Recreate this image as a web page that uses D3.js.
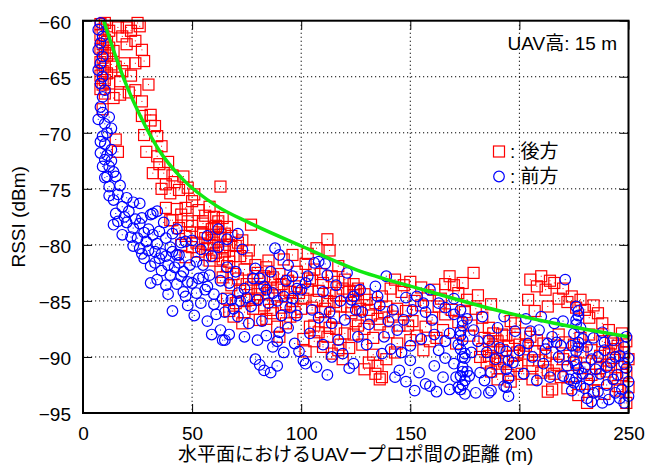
<!DOCTYPE html>
<html lang="ja">
<head>
<meta charset="UTF-8">
<title>RSSI</title>
<style>
  body { margin: 0; background: #fff; }
  svg text { font-family: "Liberation Sans", Arial, "Noto Sans CJK JP", sans-serif; }
</style>
</head>
<body>
<svg width="646" height="468"></svg>
<script src="https://d3js.org/d3.v7.min.js"></script>
<script>
// axis ticks
var xTicks = [0, 50, 100, 150, 200, 250];
var yTicks = [-60, -65, -70, -75, -80, -85, -90, -95];

// 後方 (red squares): [distance m, RSSI dBm]
var rear = [
  [8,-60.3],[9,-60.8],[8,-61.3],[10,-61.7],[9,-62.1],[8,-62.5],[10,-62.9],[9,-63.3],[8,-63.7],[10,-64.1],[9,-64.5],[8,-64.9],[10,-65.3],[9,-65.7],[8,-66.1],[10,-66.5],[9,-67.9],[11,-60.5],[11,-61.9],[11,-63.1],[11,-64.7],[12,-62.4],[12,-65.6],[13,-63.9],[10,-60.2],[12,-60.9],
  [16,-60.6],[20,-60.6],[25,-60.2],[26,-60.5],[22,-60.9],[18,-61.4],[24,-61.8],[20,-62.1],[27,-62.6],[14,-62.7],[19,-63.8],[24,-63.8],[28,-63.6],[15,-64.1],[18,-64.5],[22,-64.9],[17,-65.4],[30,-65.7],[24,-66.2],[17,-66.6],[27,-67.2],[21,-66.4],[14,-66.9],
  [31,-68.4],[27,-68.5],[31,-68.9],[33,-69.4],[28,-70.2],[34,-70.3],[15,-70.6],[16,-71.7],[29,-71.7],[34,-72.1],[36,-71.2],[32,-73.6],[37,-73.6],[41,-73.8],[46,-73.9],[38,-74.6],[40,-75.4],[44,-75.1],[35,-72.8],[39,-72.6],[42,-74.4],[36,-75.0],[48,-74.9],
  [51,-75.5],[47,-76.7],[43,-76.8],[38,-76.7],[45,-77.3],[50,-76.1],[53,-76.9],[56,-77.4],[60,-77.5],[63,-74.8],[41,-77.8],[48,-77.9],[55,-78.1],[58,-76.6],[62,-77.9],
  [40,-77.8],[44,-78.5],[47,-79.2],[50,-78.3],[52,-79.8],[54,-78.9],[56,-79.4],[57,-80.3],[59,-78.6],[60,-79.8],[61,-80.7],[63,-79.1],[64,-80.2],[47,-81.1],[53,-80.6],[58,-81.4],[50,-80.2],[55,-77.9],[62,-78.4],[63,-82.4],[49,-78.9],[45,-80],
  [55,-79.0],[58,-80.0],[60,-81.0],[62,-79.5],[65,-79.0],[67,-80.0],[69,-81.0],[71,-79.8],[59,-79.1],[61,-78.3],[56,-80.9],[64,-81.3],
  [64,-77.6],[66,-78.4],[68,-79.2],[77,-78.2],[65,-80.6],[67,-81.5],[70,-80.1],[72,-81.0],[74,-82.2],[76,-80.5],[79,-81.8],[69,-82.6],[71,-83.0],[64,-82.9],[73,-79.6],[78,-83.1],[66,-81.9],[75,-81.2],
  [66,-84.8],[68,-83.6],[70,-85.2],[72,-84.1],[74,-86.0],[76,-84.9],[78,-85.7],[69,-86.4],[73,-87.0],[67,-85.9],[80,-84.4],[75,-83.5],
  [96,-80.9],[92,-81.3],[80,-82.5],[82,-83.8],[84,-82.0],[86,-83.1],[88,-84.5],[90,-82.6],[92,-84.0],[94,-83.2],[96,-85.0],[98,-82.4],[83,-85.4],[87,-86.1],[91,-85.6],[95,-86.4],[99,-84.3],[85,-81.4],[89,-87.3],[93,-87.0],[97,-83.7],[81,-86.7],[100,-85.7],[90,-88.2],
  [77,-83.8],[79,-84.9],[81,-84.0],[83,-82.8],[85,-84.3],[87,-82.9],[89,-83.8],[91,-83.5],[93,-85.3],[95,-84.2],[97,-86.0],[86,-85.8],[84,-86.6],
  [112,-79.5],[113,-80.5],[117,-81.9],[120,-83.1],[102,-81.7],[104,-83.0],[106,-82.2],[108,-84.1],[110,-83.4],[112,-85.0],[114,-82.8],[116,-84.5],[118,-85.5],[122,-84.2],[124,-83.5],[126,-85.0],[101,-84.8],[105,-85.6],[109,-86.0],[115,-86.4],[119,-83.9],[123,-86.1],[103,-80.8],[107,-80.3],
  [103,-84.0],[105,-83.2],[107,-84.9],[109,-82.6],[111,-85.7],[113,-84.3],[115,-85.1],[117,-83.3],[121,-85.5],[125,-84.1],[106,-87.2],[113,-87.4],[117,-89.4],
  [102,-89.5],[104,-87.3],[106,-88.6],[108,-87.8],[110,-89.1],[112,-88.2],[114,-89.7],[116,-87.5],[118,-88.9],[120,-87.9],[122,-89.2],[124,-88.0],[126,-87.2],[101,-88.4],[111,-86.9],[119,-90.2],
  [124,-84.5],[127,-85.7],[130,-84.9],[132,-86.3],[134,-85.2],[136,-87.1],[138,-86.0],[140,-87.8],[129,-87.5],[125,-86.8],[133,-88.3],[143,-83.1],[150,-83.3],[141,-83.9],[146,-84.2],[147,-83.6],[139,-85.5],[142,-86.4],[145,-87.2],[148,-85.9],[151,-86.8],[153,-88.1],[155,-85.4],[157,-87.3],[159,-88.6],[144,-88.8],[150,-88.5],[156,-89.4],[128,-88.9],
  [126,-83.9],[129,-84.4],[131,-85.8],[135,-86.6],[137,-84.6],[144,-85.7],[149,-87.2],[152,-85.0],
  [133,-89.8],[136,-92.0],[131,-90.5],[137,-91.8],[143,-89.6],[129,-91.1],[135,-90.8],[139,-90.2],[134,-91.5],
  [155,-83.8],[158,-84.5],[161,-84.0],[164,-84.8],[168,-82.8],[166,-83.5],[170,-83.6],[174,-83.4],[179,-82.5],[181,-84.5],[176,-84.9],[172,-84.3],
  [163,-85.5],[166,-86.2],[169,-85.8],[172,-86.9],[175,-86.0],[178,-87.2],[180,-85.7],[183,-86.5],[186,-87.4],[165,-87.6],[171,-88.8],[177,-88.1],[160,-86.5],[184,-88.3],[187,-85.3],
  [183,-89.3],[185,-90.5],[187,-91.3],[182,-90.0],[162,-88.3],
  [188,-87.9],[190,-88.6],[192,-89.4],[194,-88.1],[196,-86.8],[198,-87.0],[200,-88.9],[202,-89.7],[189,-90.2],[191,-91.0],[193,-90.4],[195,-91.6],[197,-89.9],[199,-90.8],[201,-91.5],[203,-87.9],[188,-89.1],[190,-92.0],[196,-92.2],[204,-90.3],[198,-88.3],[186,-88.6],
  [192,-88.0],[195,-89.0],[199,-89.6],[203,-89.0],[206,-90.8],[208,-88.5],[212,-89.9],[216,-91.5],[220,-90.2],[225,-88.9],[229,-89.6],[233,-91.6],[237,-91.0],[241,-90.7],[244,-89.3],[247,-91.6],[186,-89.9],[190,-90.6],
  [205,-83.1],[210,-82.8],[216,-83.4],[204,-84.9],[213,-85.5],[220,-83.9],[224,-84.6],[228,-84.9],[234,-85.4],[236,-86.1],[238,-87.0],[241,-87.6],[247,-87.9],[208,-83.7],[212,-84.0],[218,-84.8],[222,-85.1],[230,-85.8],[232,-86.5],[207,-85.9],[243,-88.5],[245,-89.0],[249,-88.6],[226,-85.6],[214,-83.2],
  [205,-88.2],[207,-89.5],[209,-90.3],[211,-88.8],[213,-91.2],[215,-89.6],[210,-91.4],[213,-93.1],[215,-92.9],[217,-90.7],[219,-91.8],[221,-88.7],[223,-89.9],[224,-91.7],[226,-90.5],[228,-88.3],[230,-91.0],[231,-92.4],[233,-89.4],[235,-90.6],[236,-92.0],[238,-88.6],[240,-91.3],[242,-88.8],[243,-90.1],[245,-92.6],[247,-90.9],[249,-91.4],[248,-89.6],[246,-93.0],[244,-91.9],[241,-89.7],[239,-93.3],[237,-89.9],[234,-93.0],[231,-94.1],[249,-94.1],[250,-92.7],[206,-92.0],[218,-88.0],[222,-92.8],[227,-93.4],[232,-88.0],[250,-90.2]
];

// 前方 (blue circles): [distance m, RSSI dBm]
var front = [
  [8,-60.2],[7,-60.8],[9,-61.4],[8,-62.0],[7,-62.6],[9,-63.2],[8,-63.8],[7,-64.4],[9,-65.0],[8,-65.6],[10,-66.2],[9,-66.8],[8,-67.7],[12,-68.6],[7,-68.8],[13,-69.6],[9,-70.3],[8,-70.8],
  [9,-68.2],[11,-70.0],[10,-71.0],[12,-73.0],[13,-72.5],[10,-74.0],
  [8,-71.8],[10,-72.4],[14,-73.5],[11,-73.9],[15,-73.9],[12,-74.8],[16,-75.5],[14,-76.0],[18,-76.6],[21,-77.0],[26,-76.3],[15,-77.2],[32,-77.2],[34,-77.0],[11,-72.0],[13,-71.5],[9,-73.0],[17,-74.7],[20,-75.8],[12,-75.6],[23,-76.2],[10,-69.2],
  [14,-78.2],[18,-79.1],[23,-78.5],[26,-78.1],[31,-77.3],[23,-80.1],[29,-79.7],[33,-80.6],[28,-81.2],[33,-81.6],[38,-81.0],[43,-80.9],[38,-79.4],[35,-78.8],[31,-83.4],[38,-83.6],[40,-82.7],[46,-84.2],[47,-84.6],[41,-85.9],[50,-83.4],[55,-81.8],[52,-81.5],[58,-82.7],[60,-84.4],[60,-85.3],[61,-86.2],[63,-87.6],[64,-88.5],[47,-79.7],[44,-80.9],[20,-78.0],[25,-79.4],[27,-77.6],[36,-82.3],[42,-82.0],[45,-82.8],[49,-81.8],[53,-83.0],[56,-84.0],[43,-78.6],[40,-80.2],[30,-80.5],[34,-83.1],[48,-85.4],[51,-86.3],[54,-85.2],[57,-86.8],[59,-88.0],
  [22,-79.3],[24,-77.7],[28,-78.9],[32,-79.1],[34,-79.9],[36,-80.8],[39,-81.8],[41,-80.6],[27,-80.8],[31,-81.9],[35,-81.2],[44,-81.6],[46,-82.4],[48,-83.3],[52,-84.3],[55,-82.9],[57,-83.7],[43,-83.5],[39,-84.4],
  [50,-79.6],[54,-80.4],[57,-79.2],[59,-81.0],[62,-80.2],[37,-78.0],[41,-79.0],[45,-79.8],[30,-78.6],[26,-80.3],[16,-77.9],[19,-77.5],
  [62,-78.6],[66,-79.5],[71,-79.0],[63,-83.2],[64,-84.8],[65,-86.0],[65,-88.5],[67,-88.0],[74,-88.2],[80,-88.5],[79,-90.2],[81,-90.7],[83,-91.2],[86,-91.4],[89,-90.8],[87,-89.1],[89,-88.6],[94,-87.4],[97,-88.8],[99,-89.5],[101,-90.3],[102,-90.6],[88,-80.3],[90,-80.9],[96,-82.8],[71,-84.3],[83,-83.7],[71,-86.4],[77,-85.5],[68,-84.9],[74,-83.9],[80,-84.9],[85,-85.2],[76,-87.0],[82,-86.8],[92,-84.6],[94,-81.8],[86,-82.4],[98,-83.9],[79,-82.1],[70,-82.4],[84,-88.1],[91,-86.3],[95,-85.6],[100,-84.0],[66,-82.0],[73,-80.4],
  [67,-83.4],[69,-85.7],[72,-85.0],[75,-84.7],[78,-83.0],[81,-83.0],[84,-84.0],[87,-84.3],[89,-85.0],[93,-83.2],[96,-84.8],[98,-86.3],[90,-87.8],[92,-89.6],
  [106,-81.6],[108,-81.5],[103,-82.8],[105,-85.8],[108,-86.5],[114,-87.0],[117,-88.5],[114,-90.0],[120,-86.7],[123,-84.9],[125,-85.8],[110,-84.2],[112,-82.7],[116,-83.6],[118,-85.0],[104,-87.9],[110,-88.9],[107,-90.9],[112,-91.6],[119,-89.7],[122,-91.0],[102,-83.4],[121,-82.5],[126,-88.2],[124,-90.6],[113,-86.0],[111,-81.7],
  [139,-82.8],[134,-83.7],[124,-84.6],[142,-85.8],[147,-86.7],[151,-85.8],[159,-84.0],[163,-85.2],[160,-86.7],[168,-87.9],[163,-89.4],[145,-91.2],[150,-90.3],[154,-91.4],[159,-92.6],[168,-92.9],[174,-90.0],[182,-91.4],[186,-93.2],[183,-86.4],[170,-90.6],[128,-86.0],[131,-87.1],[136,-85.4],[138,-88.2],[141,-89.3],[135,-84.6],[127,-84.0],[130,-88.9],[143,-91.8],[157,-92.4],[172,-92.7],[187,-93.0],[148,-92.2],[152,-93.0],[162,-93.1],[165,-91.8],[177,-91.7],[180,-93.2],[184,-92.1],[155,-88.4],[157,-86.0],[166,-85.6],[170,-84.8],[148,-84.7],[178,-89.6],[189,-90.2],[137,-89.7],[146,-89.6],
  [153,-84.6],[156,-85.2],[161,-88.0],[166,-88.6],[170,-86.2],[176,-86.6],[179,-87.6],[181,-88.6],[185,-89.6],[150,-89.0],[144,-87.6],[140,-86.8],[161,-90.8],[166,-90.1],[171,-91.8],
  [173,-85.8],[174,-86.8],[173,-87.7],[174,-88.5],[173,-89.3],[175,-90.1],[174,-90.9],[173,-91.7],[174,-92.5],[175,-93.3],[172,-88.9],[176,-91.3],
  [174,-87.2],[173,-88.1],[175,-89.7],[174,-91.3],[173,-92.9],[175,-92.1],
  [194,-89.5],[195,-90.3],[194,-91.1],[195,-91.9],[194,-92.7],[195,-93.5],
  [221,-83.1],[193,-86.4],[198,-87.7],[186,-88.5],[187,-91.4],[193,-92.6],[215,-88.2],[213,-88.8],[204,-88.8],[218,-90.0],[224,-93.0],[200,-89.4],[202,-91.5],[206,-90.0],[209,-87.6],[211,-90.6],[214,-91.8],[216,-87.0],[219,-89.0],[222,-90.8],[191,-89.2],[197,-90.5],[208,-92.1],[190,-87.4],[210,-86.4],[203,-86.6],[220,-86.8],
  [205,-87.7],[212,-89.3],[217,-88.7],[220,-91.7],[223,-92.0],[230,-92.8],[233,-90.2],[236,-93.1],[240,-90.9],[243,-92.0],[246,-93.7],[248,-90.6],[250,-92.2],[239,-88.7],[231,-93.7],[229,-91.5],[244,-90.0],
  [226,-85.5],[227,-86.3],[226,-87.1],[225,-87.9],[227,-88.7],[226,-89.5],[225,-90.3],[227,-91.1],[226,-91.9],[228,-92.6],[228,-87.4],[224,-89.0],
  [226,-86.7],[227,-89.1],[226,-90.7],[225,-92.3],[227,-85.9],
  [234,-93.2],[238,-94.1],[244,-93.2],[248,-94.1],[248,-89.1],[231,-89.1],[236,-90.0],[230,-90.9],[232,-92.0],[234,-88.3],[237,-91.5],[239,-89.4],[240,-92.5],[242,-90.5],[243,-88.5],[245,-91.6],[246,-89.9],[247,-92.9],[249,-91.0],[250,-93.5],[233,-94.0],[241,-93.8],[229,-88.4],[235,-91.1],[249,-88.2],[250,-90.1],[238,-87.8]
];

// green reference curve
var fitCurve = [
  [9.5,-60],[12,-61.5],[15,-63.2],[20,-65.8],[27,-68.8],[35,-71.6],[46,-74.2],[61,-76.5],
  [77,-78.1],[100,-80.1],[125,-82.2],[154,-83.9],[187,-85.7],[216,-87.0],[250,-88.2]
];

var svg = d3.select("svg");
var mLeft = 83, mRight = 628.5, mTop = 20.7, mBottom = 413;

var x = d3.scaleLinear().domain([0, 250]).range([mLeft, mRight]);
var y = d3.scaleLinear().domain([-95, -60]).range([mBottom, mTop]);

// dotted grid
svg.append("g").selectAll("line")
  .data(xTicks.slice(1, -1)).enter().append("line")
  .attr("x1", d => x(d)).attr("x2", d => x(d))
  .attr("y1", mTop).attr("y2", mBottom)
  .attr("stroke", "#000").attr("stroke-width", 1).attr("stroke-dasharray", "1.2,2.8");
svg.append("g").selectAll("line")
  .data(yTicks.slice(1, -1)).enter().append("line")
  .attr("x1", mLeft).attr("x2", mRight)
  .attr("y1", d => y(d)).attr("y2", d => y(d))
  .attr("stroke", "#000").attr("stroke-width", 1).attr("stroke-dasharray", "1.2,2.8");

// axes
var gx = svg.append("g").attr("transform", "translate(0," + mBottom + ")")
  .call(d3.axisBottom(x).tickValues(xTicks).tickSizeInner(-9).tickSizeOuter(0).tickPadding(14));
var gy = svg.append("g").attr("transform", "translate(" + mLeft + ",0)")
  .call(d3.axisLeft(y).tickValues(yTicks).tickSizeInner(-9).tickSizeOuter(0).tickPadding(12));
svg.append("g").attr("transform", "translate(0," + mTop + ")")
  .call(d3.axisTop(x).tickValues(xTicks).tickSizeInner(-9).tickSizeOuter(0).tickFormat(""));
svg.append("g").attr("transform", "translate(" + mRight + ",0)")
  .call(d3.axisRight(y).tickValues(yTicks).tickSizeInner(-9).tickSizeOuter(0).tickFormat(""));

svg.selectAll(".domain").remove();
svg.selectAll(".tick line").attr("stroke", "#000").attr("stroke-width", 1);
gx.selectAll("text").attr("font-size", 19).attr("font-family", "Liberation Sans, Arial, sans-serif").attr("fill", "#000");
gy.selectAll("text").attr("font-size", 19).attr("font-family", "Liberation Sans, Arial, sans-serif").attr("fill", "#000").attr("dy", "0.42em");

// 後方 squares
var sq = 11;
var gr = svg.append("g");
gr.selectAll("rect.m").data(rear).enter().append("rect")
  .attr("x", d => x(d[0]) - sq / 2).attr("y", d => y(d[1]) - sq / 2)
  .attr("width", sq).attr("height", sq)
  .attr("fill", "none").attr("stroke", "#ff0000").attr("stroke-width", 1.2);
gr.selectAll("rect.c").data(rear).enter().append("rect")
  .attr("x", d => x(d[0]) - 0.5).attr("y", d => y(d[1]) - 0.5)
  .attr("width", 1).attr("height", 1).attr("fill", "#ff0000");

// 前方 circles
var gb = svg.append("g");
gb.selectAll("circle").data(front).enter().append("circle")
  .attr("cx", d => x(d[0])).attr("cy", d => y(d[1])).attr("r", 5.3)
  .attr("fill", "none").attr("stroke", "#0000ff").attr("stroke-width", 1.2);
gb.selectAll("rect").data(front).enter().append("rect")
  .attr("x", d => x(d[0]) - 0.5).attr("y", d => y(d[1]) - 0.5)
  .attr("width", 1).attr("height", 1).attr("fill", "#0000ff");

// green curve
svg.append("path").datum(fitCurve)
  .attr("d", d3.line().x(d => x(d[0])).y(d => y(d[1])).curve(d3.curveMonotoneX))
  .attr("fill", "none").attr("stroke", "#11e811").attr("stroke-width", 3.5);

// frame
svg.append("rect").attr("x", mLeft).attr("y", mTop)
  .attr("width", mRight - mLeft).attr("height", mBottom - mTop)
  .attr("fill", "none").attr("stroke", "#000").attr("stroke-width", 2);

// labels
svg.append("text").attr("x", (mLeft + mRight) / 2).attr("y", 461)
  .attr("text-anchor", "middle").attr("font-size", 19)
  .text("水平面におけるUAVープロポ間の距離 (m)");
svg.append("text").attr("transform", "translate(25," + ((mTop + mBottom) / 2) + ") rotate(-90)")
  .attr("text-anchor", "middle").attr("font-size", 19)
  .text("RSSI (dBm)");
svg.append("text").attr("x", 617).attr("y", 50)
  .attr("text-anchor", "end").attr("font-size", 19)
  .text("UAV高: 15 m");

// legend
svg.append("rect").attr("x", 499 - 5.5).attr("y", 151.5 - 5.5).attr("width", 11).attr("height", 11)
  .attr("fill", "none").attr("stroke", "#ff0000").attr("stroke-width", 1.2);
svg.append("text").attr("x", 510).attr("y", 157.5).attr("font-size", 19).text(": 後方");
svg.append("circle").attr("cx", 499).attr("cy", 176.5).attr("r", 5.3)
  .attr("fill", "none").attr("stroke", "#0000ff").attr("stroke-width", 1.2);
svg.append("text").attr("x", 510).attr("y", 182.5).attr("font-size", 19).text(": 前方");
</script>
</body>
</html>
